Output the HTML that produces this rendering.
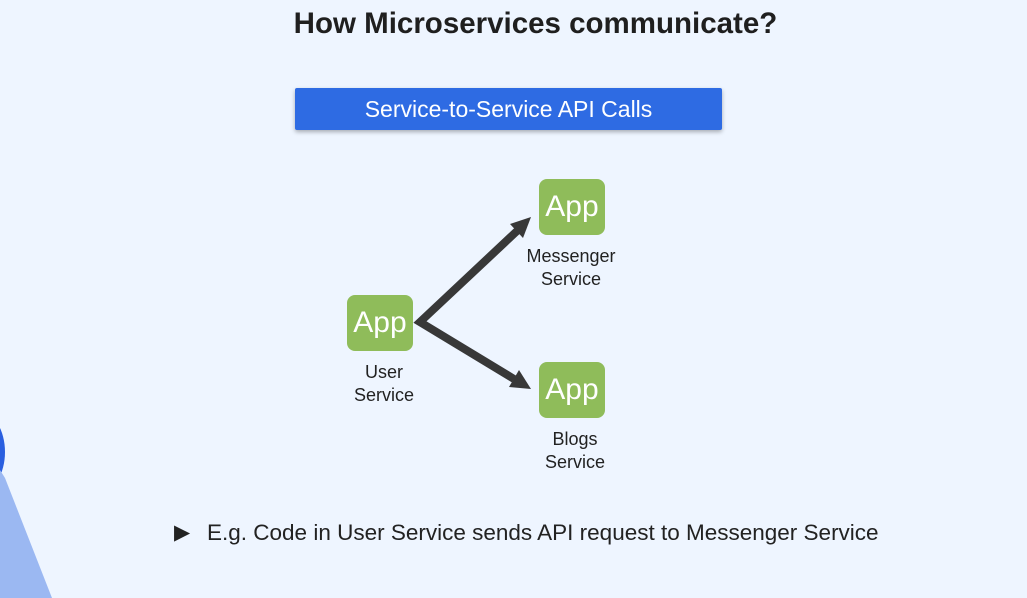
<!DOCTYPE html>
<html><head><style>
body{margin:0;width:1027px;height:598px;background:#eef5ff;position:relative;overflow:hidden;font-family:"Liberation Sans",sans-serif;}
.t{position:absolute;left:22px;width:1027px;top:7px;text-align:center;font-weight:bold;font-size:29.5px;color:#1f1f1f;}
.ban{position:absolute;left:295px;top:88px;width:427px;height:42px;background:#2e6be3;color:#fff;font-size:23px;line-height:42px;text-align:center;border-radius:2px;box-shadow:0 2px 4px rgba(0,0,0,.3);}
.app{position:absolute;width:66px;height:56px;background:#8fbc5a;border-radius:8px;color:#fff;font-size:30px;line-height:56px;text-align:center;}
.lb{position:absolute;font-size:18px;color:#222;text-align:center;line-height:23px;width:120px;}
.bul{position:absolute;left:174px;top:520px;font-size:21px;color:#222;}
.bt{position:absolute;left:207px;top:520px;font-size:22.5px;color:#222;white-space:nowrap;}
</style></head><body>
<div class="t">How Microservices communicate?</div>
<div class="ban">Service-to-Service API Calls</div>
<svg width="1027" height="598" style="position:absolute;left:0;top:0">
<ellipse cx="-20" cy="452" rx="25" ry="40" fill="#2a5fe0"/>
<polygon points="0,470 5,478 52,598 0,598" fill="#9bb8f2"/>
<polyline points="517,231 420,322 514,379" fill="none" stroke="#383838" stroke-width="8"/>
<polygon points="531,217 523,238 510,224" fill="#383838"/>
<polygon points="531,389 509,387 519,370" fill="#383838"/>
</svg>
<div class="app" style="left:347px;top:295px">App</div>
<div class="app" style="left:539px;top:179px">App</div>
<div class="app" style="left:539px;top:362px">App</div>
<div class="lb" style="left:324px;top:361px">User<br>Service</div>
<div class="lb" style="left:511px;top:245px">Messenger<br>Service</div>
<div class="lb" style="left:515px;top:428px">Blogs<br>Service</div>
<div class="bul">▶</div>
<div class="bt">E.g. Code in User Service sends API request to Messenger Service</div>
</body></html>
